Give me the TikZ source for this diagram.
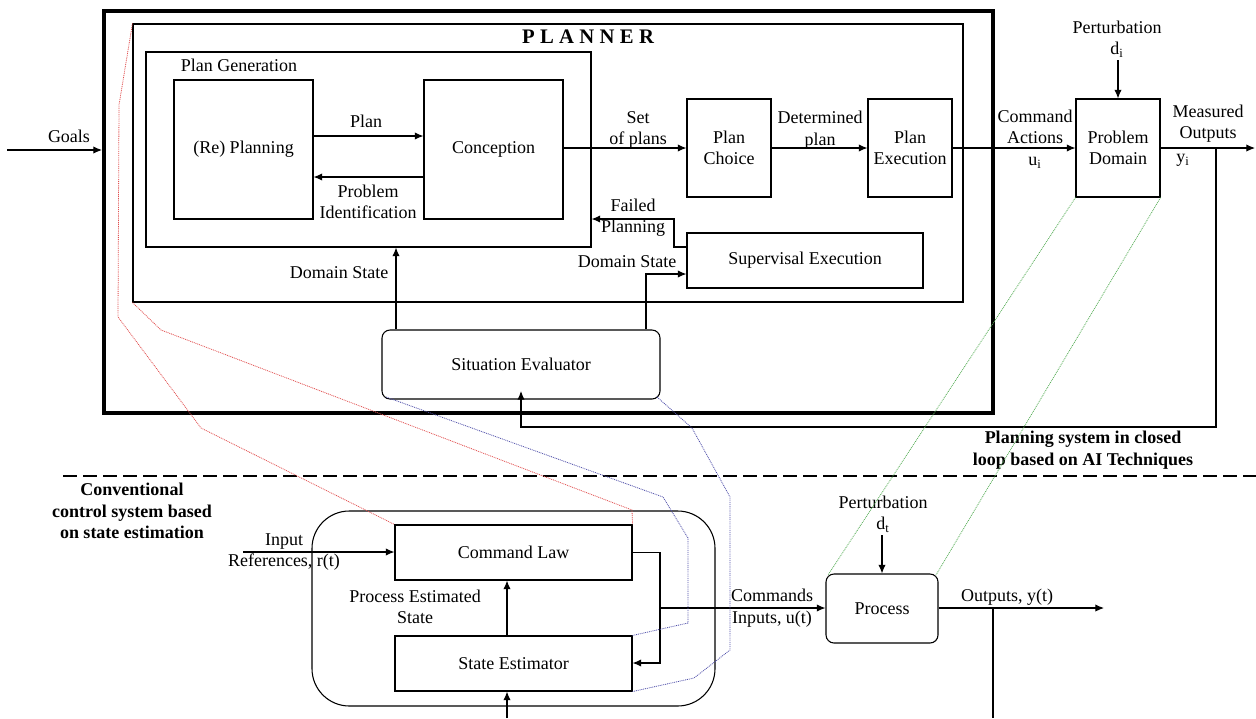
\documentclass[tikz,border=0pt]{standalone}
\usepackage{fontspec}
\setmainfont{Liberation Serif}
\usetikzlibrary{arrows.meta,fit,calc}
\definecolor{redline}{RGB}{225,80,80}
\definecolor{blueline}{RGB}{80,80,170}
\definecolor{greenline}{RGB}{90,175,90}
\newcommand\plsp{\kern4pt}
\begin{document}
\begin{tikzpicture}[x=0.75pt,y=-0.75pt,
  font=\fontsize{13.5pt}{16pt}\selectfont,
  box/.style={draw, line width=0.8pt, inner sep=0pt},
  rbox/.style={box, rounded corners=6pt},
  lbl/.style={inner sep=0pt, align=center},
  txt/.style={label={[lbl]center:#1}},
  blbl/.style={lbl, font=\fontsize{13.5pt}{16pt}\selectfont\bfseries},
  arr/.style={line width=0.8pt, -{Latex[length=6.5pt,width=5.5pt]}},
  ln/.style={line width=0.8pt},
  dots/.style={line width=0.6pt, dash pattern=on 0.7pt off 0.7pt},
]
\useasboundingbox (0,0) rectangle (1256,718);

% ---------- boxes ----------
\node[draw, line width=3pt, inner sep=0pt, fit={(104,11) (993,413)}] (planner) {};
\node[box, fit={(133,24) (963,302)}] (inner) {};
\node[box, fit={(146,52) (591,247)}] (plangen) {};
\node[box, fit={(174,80) (313,219)}, txt={(Re) Planning}] (replan) {};
\node[box, fit={(424,80) (563,219)}, txt={Conception}] (concep) {};
\node[box, fit={(687,99) (771,197)}, txt={Plan\\Choice}] (choice) {};
\node[box, fit={(868,99) (952,197)}, txt={Plan\\Execution}] (exec) {};
\node[box, fit={(1076,99) (1160,197)}, txt={Problem\\Domain}] (domain) {};
\node[box, fit={(687,233) (923,288)}, txt={Supervisal Execution}] (superv) {};
\node[rbox, fit={(382,330) (660,399)}, txt={Situation Evaluator}] (sitev) {};

\node[box, rounded corners=28pt, fit={(312,511) (715,706)}] (ctrl) {};
\node[box, fit={(395,525) (632,580)}, txt={Command Law}] (cmdlaw) {};
\node[box, fit={(395,636) (632,691)}, txt={State Estimator}] (stateest) {};
\node[rbox, fit={(826,574) (938,643)}, txt={Process}] (process) {};

% ---------- labels ----------
\node[blbl, font=\fontsize{15.5pt}{18pt}\selectfont\bfseries] (ttl) at (588,37) {P\plsp L\plsp A\plsp N\plsp N\plsp E\plsp R};
\node[lbl] (lpg) at (239,65) {Plan Generation};
\node[lbl] (lgoals) at (69,136) {Goals};
\node[lbl] (lplan) at (366,121) {Plan};
\node[lbl] (lprob) at (368,202) {Problem\\Identification};
\node[lbl] (lset) at (638,130) {Set\\of plans};
\node[lbl] (ldet) at (820,130) {Determined\\plan};
\node[lbl] (lcmd) at (1035,139) {Command\\Actions\\u\textsubscript{i}};
\node[lbl] (lpi) at (1117,39) {Perturbation\\d\textsubscript{i}};
\node[lbl] (lmo) at (1208,124) {Measured\\Outputs};
\node[lbl] (lyi) at (1183,160) {y\textsubscript{i}};
\node[lbl] (lfail) at (633,218) {Failed\\Planning};
\node[lbl] (lds1) at (339,273) {Domain State};
\node[lbl] (lds2) at (627,262) {Domain State};
\node[blbl] (lai) at (1083,450) {Planning system in closed\\loop based on AI Techniques};
\node[blbl] (lconv) at (132,511) {Conventional\\control system based\\on state estimation};
\node[lbl] (linp) at (284,552) {Input\\References, r(t)};
\node[lbl] (lpes) at (415,607) {Process Estimated\\State};
\node[lbl] (lcmds) at (772,608) {Commands\\Inputs, u(t)};
\node[lbl] (lpt) at (883,514) {Perturbation\\d\textsubscript{t}};
\node[lbl] (lout) at (1007,597) {Outputs, y(t)};

% ---------- helper coordinates ----------
\coordinate (g0) at (7,150);
\coordinate (yA) at (0,136);
\coordinate (yB) at (0,177);
\coordinate (mo) at (1255,148);
\coordinate (pi) at (1118,60);
\coordinate (fb) at (1216,148);
\coordinate (fby) at (0,427);
\coordinate (fbt) at (521,391);
\coordinate (dsl) at (396,0);
\coordinate (dsr) at (646,274);
\coordinate (fp) at (674,247);
\coordinate (fpy) at (0,219);
\coordinate (ir) at (243,552);
\coordinate (pes) at (507,0);
\coordinate (bin) at (507,718);
\coordinate (co) at (660,663);
\coordinate (cp) at (660,608);
\coordinate (pt) at (882,535);
\coordinate (out) at (1104,608);
\coordinate (o1) at (993,608);
\coordinate (o2) at (993,718);
\coordinate (d0) at (63,476);
\coordinate (d1) at (1256,476);

% ---------- connectors ----------
\draw[arr] (g0) -- (g0 -| planner.west);
\draw[arr] (replan.east |- yA) -- (concep.west |- yA);
\draw[arr] (concep.west |- yB) -- (replan.east |- yB);
\draw[arr] (concep.east |- choice.west) -- (choice.west);
\draw[arr] (choice.east) -- (exec.west);
\draw[arr] (exec.east) -- (domain.west);
\draw[arr] (domain.east |- mo) -- (mo);
\draw[arr] (pi) -- (domain.north);
\draw[arr] (fb) |- (sitev.south |- fby) -- (fbt);
\draw[arr] (sitev.north -| dsl) -- (plangen.south -| dsl);
\draw[arr] (sitev.north -| dsr) |- (superv.west |- dsr);
\draw[arr] (superv.west |- fp) -- (fp) |- (plangen.east |- fpy);

\draw[arr] (ir) -- (cmdlaw.west |- ir);
\draw[arr] (stateest.north -| pes) -- (cmdlaw.south -| pes);
\draw[arr] (bin) -- (stateest.south -| bin);
\draw[arr] (cmdlaw.east) -| (co) -- (stateest.east |- co);
\draw[arr] (cp) -- (process.west |- cp);
\draw[arr] (pt) -- (process.north);
\draw[arr] (process.east |- out) -- (out);
\draw[ln] (o1) -- (o2);

\draw[line width=2pt, dash pattern=on 10.5pt off 4.5pt] (d0) -- (d1);

% ---------- dotted correspondence lines ----------
\draw[dots, redline] (inner.north west) -- (119,105) -- (118,317) -- (201,428) -- (cmdlaw.north west);
\draw[dots, redline] (inner.south west) -- (161,330) -- (632,510) -- (cmdlaw.north east);
\draw[dots, blueline] (386,397) -- (663,497) -- (688,538) -- (688,623) -- (stateest.north east);
\draw[dots, blueline] (657,397) -- (692,428) -- (730,497) -- (730,650) -- (694,678) -- (stateest.south east);
\draw[dots, greenline] (domain.south west) -- (828,575);
\draw[dots, greenline] (domain.south east) -- (936,575);
\end{tikzpicture}
\end{document}
